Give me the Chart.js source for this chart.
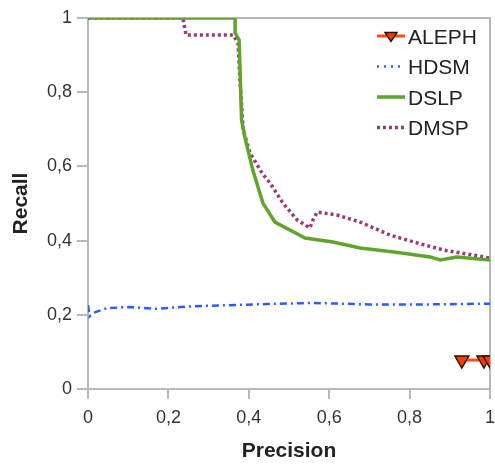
<!DOCTYPE html>
<html>
<head>
<meta charset="utf-8">
<script src="https://cdn.jsdelivr.net/npm/chart.js@4"></script>
<style>
  html, body { margin: 0; padding: 0; background: #fff; }
  #wrap { width: 495px; height: 468px; }
</style>
</head>
<body>
<div id="wrap"><canvas id="prChart" width="495" height="468"></canvas></div>
<script>
// precision / recall pairs
const alephPrecision = [0.93, 0.985, 1.0];
const alephRecall = [0.078, 0.078, 0.078];

const hdsmPrecision = [0, 0.004, 0.012, 0.047, 0.104, 0.17, 0.228, 0.286, 0.445, 0.56, 0.7, 0.85, 1.0];
const hdsmRecall = [0.226, 0.196, 0.205, 0.218, 0.221, 0.216, 0.221, 0.224, 0.229, 0.232, 0.228, 0.228, 0.23];

const dslpPrecision = [0, 0.366, 0.366, 0.376, 0.379, 0.382, 0.392, 0.41, 0.435, 0.465, 0.54, 0.609, 0.677, 0.776, 0.851, 0.876, 0.918, 1.0];
const dslpRecall = [1, 1, 0.96, 0.941, 0.833, 0.725, 0.67, 0.59, 0.501, 0.45, 0.407, 0.396, 0.38, 0.367, 0.356, 0.348, 0.356, 0.348];

const dmspPrecision = [0, 0.236, 0.244, 0.361, 0.373, 0.378, 0.386, 0.403, 0.433, 0.453, 0.485, 0.52, 0.552, 0.56, 0.57, 0.619, 0.677, 0.751, 0.818, 0.883, 1.0];
const dmspRecall = [1, 1, 0.954, 0.954, 0.933, 0.833, 0.698, 0.636, 0.582, 0.555, 0.501, 0.456, 0.434, 0.456, 0.477, 0.469, 0.45, 0.415, 0.394, 0.375, 0.353];

const axisTicks = [0, 0.2, 0.4, 0.6, 0.8, 1];

const toPoints = (xs, ys) => xs.map((x, i) => ({ x: x, y: ys[i] }));
const fmtTick = v => String(Math.round(v * 10) / 10).replace('.', ',');

const gridGrey = '#b8b8b8';

// frame round the plot area
const framePlugin = {
  id: 'frame',
  beforeDatasetsDraw(chart) {
    const a = chart.chartArea;
    const ctx = chart.ctx;
    ctx.save();
    ctx.strokeStyle = gridGrey;
    ctx.lineWidth = 2;
    ctx.strokeRect(a.left, a.top, a.right - a.left, a.bottom - a.top);
    ctx.restore();
  }
};

// legend inside the plot, top right
const insideLegend = {
  id: 'insideLegend',
  afterDraw(chart) {
    const a = chart.chartArea;
    const ctx = chart.ctx;
    const x0 = a.right - 113;
    const x1 = a.right - 85;
    ctx.save();
    ctx.font = '21px "Liberation Sans", Arial, sans-serif';
    ctx.textBaseline = 'middle';
    chart.data.datasets.forEach((ds, i) => {
      const y = a.top + 18 + i * 30.5;
      ctx.strokeStyle = ds.borderColor;
      ctx.lineWidth = ds.borderWidth;
      ctx.setLineDash(ds.legendDash || []);
      ctx.beginPath();
      ctx.moveTo(x0, y);
      ctx.lineTo(x1, y);
      ctx.stroke();
      ctx.setLineDash([]);
      if (ds.pointRadius > 0) {
        const cx = (x0 + x1) / 2, r = 6;
        ctx.beginPath();
        ctx.moveTo(cx - r, y - r * 0.6);
        ctx.lineTo(cx + r, y - r * 0.6);
        ctx.lineTo(cx, y + r * 0.9);
        ctx.closePath();
        ctx.fillStyle = ds.pointBackgroundColor;
        ctx.fill();
        ctx.strokeStyle = ds.pointBorderColor;
        ctx.lineWidth = 1.5;
        ctx.stroke();
      }
      ctx.fillStyle = '#222';
      ctx.fillText(ds.label, x1 + 3, y + 2);
    });
    ctx.restore();
  }
};

const ctx = document.getElementById('prChart').getContext('2d');
new Chart(ctx, {
  type: 'scatter',
  data: {
    datasets: [
      {
        label: 'ALEPH',
        data: toPoints(alephPrecision, alephRecall),
        showLine: true,
        borderColor: '#ff4a12',
        borderWidth: 3,
        pointStyle: 'triangle',
        rotation: 180,
        pointRadius: 8,
        pointBackgroundColor: '#ff3a00',
        pointBorderColor: '#2a1200',
        pointBorderWidth: 1.5
      },
      {
        label: 'HDSM',
        data: toPoints(hdsmPrecision, hdsmRecall),
        showLine: true,
        borderColor: '#2a5cff',
        borderWidth: 2.5,
        borderDash: [7, 4, 2, 4],
        legendDash: [2, 5],
        pointRadius: 0
      },
      {
        label: 'DSLP',
        data: toPoints(dslpPrecision, dslpRecall),
        showLine: true,
        borderColor: '#5fa52d',
        borderWidth: 3.5,
        pointRadius: 0
      },
      {
        label: 'DMSP',
        data: toPoints(dmspPrecision, dmspRecall),
        showLine: true,
        borderColor: '#9c3a78',
        borderWidth: 3.5,
        borderDash: [3, 3],
        legendDash: [3, 3],
        pointRadius: 0
      }
    ]
  },
  options: {
    responsive: false,
    animation: false,
    layout: { autoPadding: false, padding: { left: 0, right: 5, top: 18, bottom: 0 } },
    plugins: {
      legend: { display: false },
      tooltip: { enabled: false }
    },
    scales: {
      x: {
        type: 'linear',
        min: 0,
        max: 1,
        afterFit: s => { s.height = 79; s.paddingRight = 0; s.paddingLeft = 0; },
        afterBuildTicks: s => { s.ticks = axisTicks.map(v => ({ value: v })); },
        grid: { drawOnChartArea: false, drawTicks: true, tickLength: 10, color: gridGrey, lineWidth: 2 },
        border: { display: true, color: gridGrey, width: 2 },
        ticks: {
          callback: fmtTick,
          color: '#333',
          padding: 8,
          maxRotation: 0,
          font: { family: '"Liberation Sans", Arial, sans-serif', size: 18 }
        },
        title: {
          display: true,
          text: 'Precision',
          color: '#222',
          padding: { top: 0, bottom: 4 },
          font: { family: '"Liberation Sans", Arial, sans-serif', size: 21, weight: 'bold' }
        }
      },
      y: {
        type: 'linear',
        min: 0,
        max: 1,
        afterFit: s => { s.width = 88; },
        afterBuildTicks: s => { s.ticks = axisTicks.map(v => ({ value: v })); },
        grid: { drawOnChartArea: false, drawTicks: true, tickLength: 11, color: gridGrey, lineWidth: 2 },
        border: { display: true, color: gridGrey, width: 2 },
        ticks: {
          callback: fmtTick,
          color: '#333',
          padding: 5,
          font: { family: '"Liberation Sans", Arial, sans-serif', size: 18 }
        },
        title: {
          display: true,
          text: 'Recall',
          color: '#222',
          padding: { top: 9, bottom: 0 },
          font: { family: '"Liberation Sans", Arial, sans-serif', size: 21, weight: 'bold' }
        }
      }
    }
  },
  plugins: [framePlugin, insideLegend]
});
</script>
</body>
</html>
